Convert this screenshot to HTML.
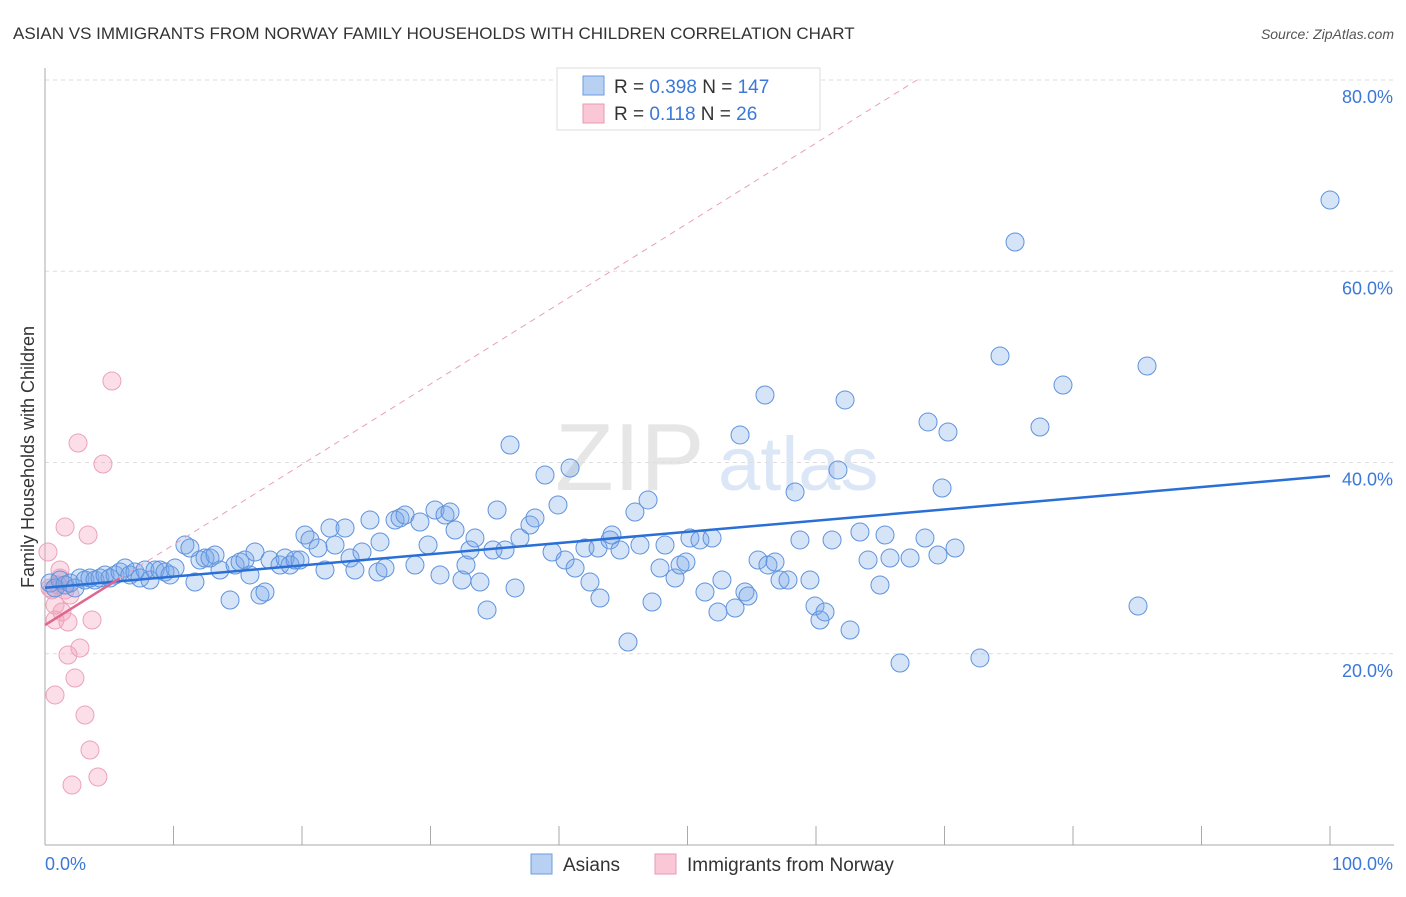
<!DOCTYPE html>
<html><head><meta charset="utf-8"><style>
body{margin:0;background:#fff;font-family:"Liberation Sans",sans-serif;}
svg text{font-family:"Liberation Sans",sans-serif;}
</style></head><body>
<svg id="chart" width="1406" height="892" viewBox="0 0 1406 892" xmlns="http://www.w3.org/2000/svg">
<text x="13" y="39" font-size="17" fill="#333">ASIAN VS IMMIGRANTS FROM NORWAY FAMILY HOUSEHOLDS WITH CHILDREN CORRELATION CHART</text>
<text x="1394" y="39" font-size="14" fill="#555" text-anchor="end" font-style="italic">Source: ZipAtlas.com</text>
<g>
<text x="555" y="490" font-size="96" fill="#e6e6e6" font-family="Liberation Serif,serif">ZIP</text>
<text x="718" y="490" font-size="76" fill="#dbe6f6">atlas</text>
</g>
<g id="grid"></g>
<g id="axes"></g>
<g id="trend"></g>
<g id="pts"></g>
<g>
<rect x="557" y="68" width="263" height="62" fill="#fff" stroke="#ddd"/>
<rect x="583" y="76" width="21" height="19" fill="#b8d1f3" stroke="#6b9ce0"/>
<rect x="583" y="104" width="21" height="19" fill="#f9c7d5" stroke="#e99ab2"/>
<text x="614" y="93" font-size="19" fill="#333">R = <tspan fill="#3b78d8">0.398</tspan>   N = <tspan fill="#3b78d8">147</tspan></text>
<text x="614" y="120" font-size="19" fill="#333">R =  <tspan fill="#3b78d8">0.118</tspan>   N =  <tspan fill="#3b78d8"> 26</tspan></text>
</g>
<g>
<rect x="531" y="854" width="21" height="20" fill="#b8d1f3" stroke="#6b9ce0"/>
<text x="563" y="871" font-size="19" fill="#333">Asians</text>
<rect x="655" y="854" width="21" height="20" fill="#f9c7d5" stroke="#e99ab2"/>
<text x="687" y="871" font-size="19" fill="#333">Immigrants from Norway</text>
</g>
<text transform="translate(34,457) rotate(-90)" font-size="18" fill="#333" text-anchor="middle">Family Households with Children</text>
</svg>
<script>
const xTickLabels=["0.0%","100.0%"];
const yTicks=[20,40,60,80];
const yTickLabels=["20.0%","40.0%","60.0%","80.0%"];
const asiansPx=[[50,583],[55,588],[60,580],[65,585],[70,583],[75,588],[80,578],[85,580],[90,578],[95,580],[100,578],[105,575],[110,578],[115,575],[120,572],[125,568],[130,575],[135,572],[140,578],[145,570],[150,580],[155,570],[160,570],[165,572],[170,575],[175,568],[185,545],[190,548],[195,582],[200,560],[205,558],[210,558],[215,555],[220,570],[230,600],[235,565],[240,562],[245,560],[250,575],[255,552],[260,595],[265,592],[270,560],[280,565],[285,558],[290,565],[295,560],[300,560],[305,535],[310,540],[318,548],[325,570],[330,528],[335,545],[345,528],[350,558],[355,570],[362,552],[370,520],[378,572],[380,542],[385,568],[395,520],[400,518],[405,515],[415,565],[420,522],[428,545],[435,510],[440,575],[445,515],[450,512],[455,530],[462,580],[466,565],[470,550],[475,538],[480,582],[487,610],[493,550],[497,510],[505,550],[510,445],[515,588],[520,538],[530,525],[535,518],[545,475],[552,552],[558,505],[565,560],[570,468],[575,568],[585,548],[590,582],[598,548],[600,598],[610,540],[612,535],[620,550],[628,642],[635,512],[640,545],[648,500],[652,602],[660,568],[665,545],[675,578],[680,565],[686,562],[690,538],[700,540],[705,592],[712,538],[718,612],[722,580],[735,608],[740,435],[745,592],[748,596],[758,560],[765,395],[768,565],[775,562],[780,580],[788,580],[795,492],[800,540],[810,580],[815,606],[820,620],[825,612],[832,540],[838,470],[845,400],[850,630],[860,532],[868,560],[880,585],[885,535],[890,558],[900,663],[910,558],[925,538],[928,422],[938,555],[942,488],[948,432],[955,548],[980,658],[1000,356],[1015,242],[1040,427],[1063,385],[1138,606],[1147,366],[1330,200]];
const norwayPx=[[48,552],[50,588],[52,590],[55,605],[55,695],[58,585],[60,578],[62,612],[65,527],[68,622],[68,655],[72,785],[75,678],[78,443],[80,648],[85,715],[88,535],[90,750],[92,620],[98,777],[103,464],[112,381],[60,570],[65,590],[70,595],[55,620]];
// data values (x %, y %) derived from the picture
const asiansX=asiansPx.map(p=>+((p[0]-45)/12.85).toFixed(2));
const asiansY=asiansPx.map(p=>+((845-p[1])/9.5625).toFixed(2));
const norwayX=norwayPx.map(p=>+((p[0]-45)/12.85).toFixed(2));
const norwayY=norwayPx.map(p=>+((845-p[1])/9.5625).toFixed(2));
const asianTrend=[26.9,38.6];
const norwayTrend=[23.0,0.84];
const NS="http://www.w3.org/2000/svg";
const X=v=>45+v*12.85, Y=v=>845-v*9.5625;
function mk(tag,attrs,parent){const e=document.createElementNS(NS,tag);for(const k in attrs)e.setAttribute(k,attrs[k]);parent.appendChild(e);return e;}
const grid=document.getElementById('grid'),axes=document.getElementById('axes'),tr=document.getElementById('trend'),pts=document.getElementById('pts');
yTicks.forEach((t,i)=>{
 const l=mk('line',{x1:45,x2:1394,y1:Y(t),y2:Y(t),stroke:'#ddd','stroke-dasharray':'4,4'},grid);
 
 
 const tx=mk('text',{x:1393,y:Y(t)+23,'font-size':18,fill:'#3b78d8','text-anchor':'end'},axes);
 tx.textContent=yTickLabels[i];
 
 
});
const xa=mk('line',{x1:45,x2:1394,y1:845,y2:845,stroke:'#aaa'},axes);


const ya=mk('line',{x1:45,x2:45,y1:68,y2:845,stroke:'#aaa'},axes);


for(let i=0;i<=10;i++){const t=mk('line',{x1:X(i*10),x2:X(i*10),y1:826,y2:845,stroke:'#aaa'},axes);
 
 }
const xl0=mk('text',{x:45,y:870,'font-size':18,fill:'#3b78d8'},axes);xl0.textContent=xTickLabels[0];


const xl1=mk('text',{x:1393,y:870,'font-size':18,fill:'#3b78d8','text-anchor':'end'},axes);xl1.textContent=xTickLabels[1];


// pink dashed extension
const xEnd=(80-norwayTrend[0])/norwayTrend[1];
const dl=mk('line',{x1:X(0),y1:Y(norwayTrend[0]),x2:X(xEnd),y2:Y(80),stroke:'#eaa0b5','stroke-dasharray':'6,5','stroke-width':1},tr);


norwayX.forEach((x,i)=>{const c=mk('circle',{cx:X(x),cy:Y(norwayY[i]),r:9,fill:'rgba(244,160,188,0.35)',stroke:'#eba3b8'},pts);
 
 });
asiansX.forEach((x,i)=>{const c=mk('circle',{cx:X(x),cy:Y(asiansY[i]),r:9,fill:'rgba(120,165,232,0.3)',stroke:'#5f93dd'},pts);
 
 });
const at=mk('line',{x1:X(0),y1:Y(asianTrend[0]),x2:X(100),y2:Y(asianTrend[1]),stroke:'#2a6fd6','stroke-width':2.5},tr);


const nt=mk('line',{x1:X(0),y1:Y(norwayTrend[0]),x2:X(5.8),y2:Y(norwayTrend[0]+norwayTrend[1]*5.8),stroke:'#e0668e','stroke-width':2.5},tr);


tr.parentNode.appendChild(tr);
</script>
</body></html>
